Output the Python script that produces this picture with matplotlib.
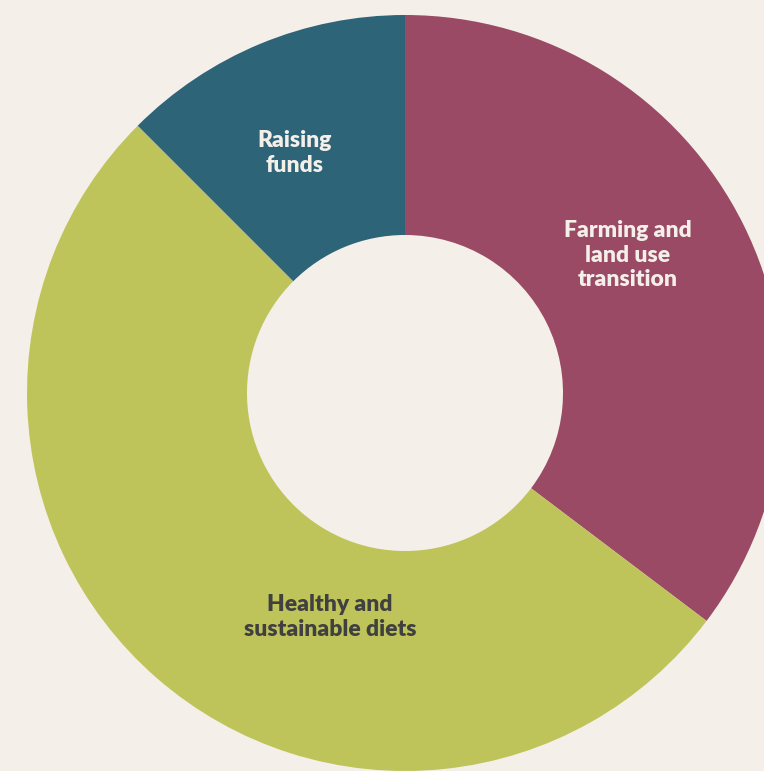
import matplotlib.pyplot as plt

labels = ["Farming and\nland use\ntransition", "Healthy and\nsustainable diets", "Raising\nfunds"]
shares = [35.3, 52.2, 12.5]
colors = ["#9a4a65", "#bfc45a", "#2d6478"]
text_colors = ["#f4f0e9", "#404040", "#f4f0e9"]
label_pos = [(628, 255), (330, 617), (295, 153)]

bg = "#f4f0e9"
fig = plt.figure(figsize=(7.64, 7.71), dpi=100, facecolor=bg)
ax = fig.add_axes([0, 0, 1, 1])
ax.set_facecolor(bg)

# pixel coordinates, y flipped so the pie still runs clockwise
cx, cy, r = 405, 771 - 393, 378
ax.pie(shares, colors=colors, startangle=90, counterclock=False,
       center=(cx, cy), radius=r,
       wedgeprops=dict(width=r - 158, linewidth=0))

for lab, col, (x, y) in zip(labels, text_colors, label_pos):
    ax.text(x, 771 - y, lab, ha="center", va="center", color=col,
            fontsize=16.5, fontweight="heavy", family=["Lato", "DejaVu Sans"],
            linespacing=1.2)

ax.set_xlim(0, 764)
ax.set_ylim(0, 771)
ax.set_aspect("equal")
ax.axis("off")
fig.savefig("out.png", dpi=100, facecolor=bg)
